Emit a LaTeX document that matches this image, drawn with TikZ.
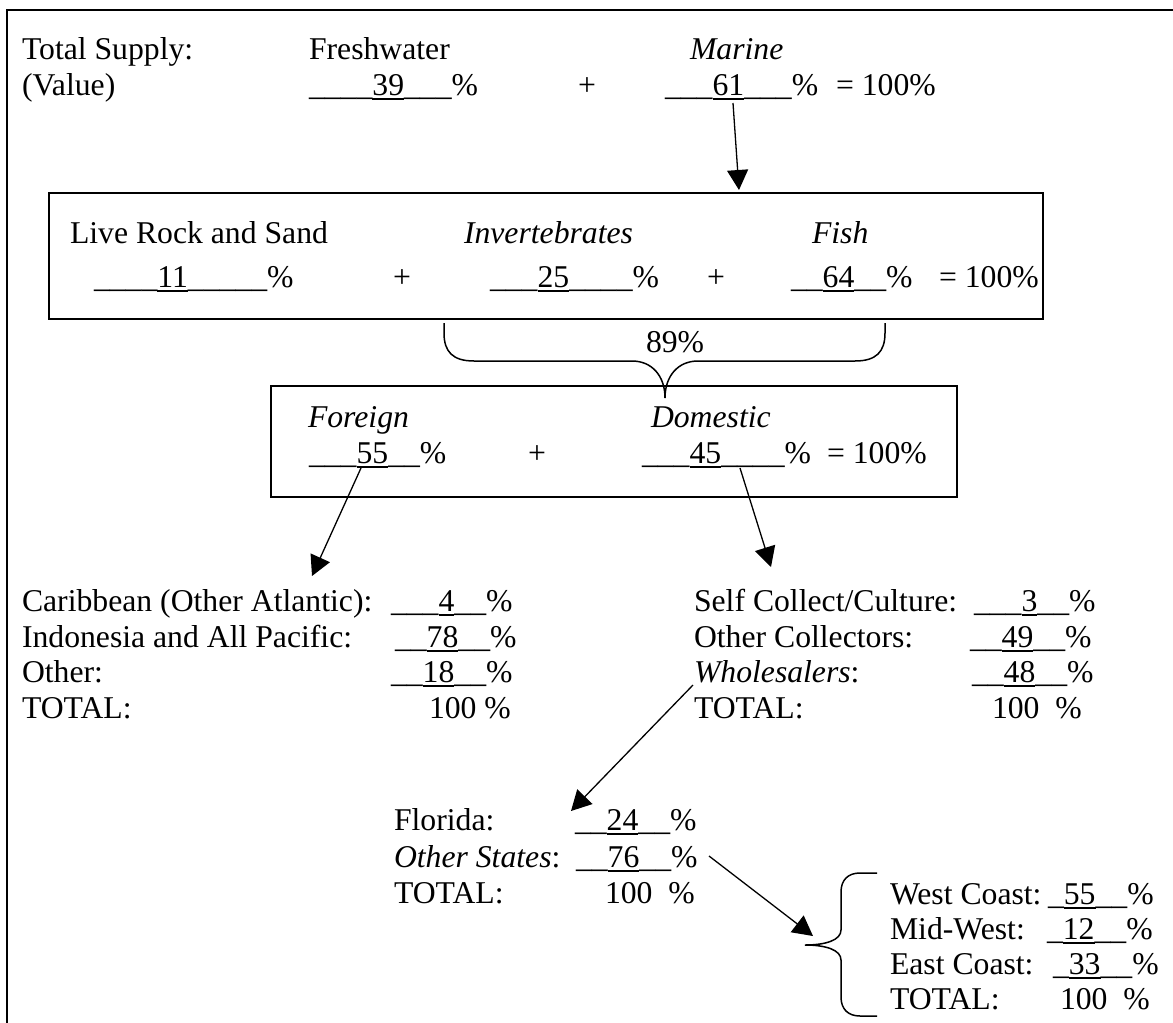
\documentclass[tikz,border=0pt]{standalone}
\usepackage{fontspec}
\setmainfont{Liberation Serif}
\usetikzlibrary{arrows.meta}

% a figure written into a blank: underlined like the blank's underscores
\newcommand\numline[1]{\setbox0\hbox{#1}\rlap{\rule[-0.16em]{\wd0}{0.055em}}\box0}

\tikzset{
  txt/.style={inner sep=0pt, outer sep=0pt, anchor=base west,
              font=\fontsize{31.7}{36}\selectfont},
  boxline/.style={line width=1.8pt},
  arr/.style={line width=1.3pt, -{Triangle[length=20pt,width=21pt]}},
  brace/.style={line width=1.5pt},
}

\begin{document}
\begin{tikzpicture}[x=1pt,y=-1pt]
\useasboundingbox (0,0) rectangle (1173,1023);

% page frame
\draw[line width=2pt] (7,1023) -- (7,10) -- (1173,10);

% ---- total supply
\node[txt] (tot)  at (22,59) {Total Supply:};
\node[txt] (val)  at (22,95) {(Value)};
\node[txt] (fw)   at (309,59) {Freshwater};
\node[txt] (fwv)  at (309,95) {\_\_\_\_\numline{39}\_\_\_\%};
\node[txt] (pl0)  at (578,95) {+};
\node[txt] (mar)  at (690,59) {\textit{Marine}};
\node[txt] (marv) at (665,95) {\_\_\_\numline{61}\_\_\_\%};
\node[txt] (eq0)  at (836,95) {= 100\%};

% ---- marine split
\draw[boxline] (49,193) rectangle (1043,319);
\node[txt] (lrs)  at (70,243)  {Live Rock and Sand};
\node[txt] (inv)  at (464,243) {\textit{Invertebrates}};
\node[txt] (fish) at (812,243) {\textit{Fish}};
\node[txt] (lrsv) at (94,287)  {\_\_\_\_\numline{11}\_\_\_\_\_\%};
\node[txt] (pl1)  at (393,287) {+};
\node[txt] (invv) at (490,287) {\_\_\_\numline{25}\_\_\_\_\%};
\node[txt] (pl2)  at (707,287) {+};
\node[txt] (fishv) at (791,287) {\_\_\numline{64}\_\_\%};
\node[txt] (eq1)  at (939,287) {= 100\%};

% brace under invertebrates and fish
\draw[brace] (444,323) -- (444,333) .. controls (444,352) and (453,361) .. (474,361)
  -- (632,361) .. controls (652,361) and (665,376) .. (665,398)
  .. controls (665,376) and (678,361) .. (698,361)
  -- (855,361) .. controls (876,361) and (885,352) .. (885,333) -- (885,323);
\node[txt] (pct) at (646,352) {89\%};

% ---- origin split
\draw[boxline] (271,386) rectangle (957,497);
\node[txt] (for)  at (308,427) {\textit{Foreign}};
\node[txt] (dom)  at (651,427) {\textit{Domestic}};
\node[txt] (forv) at (309,463) {\_\_\_\numline{55}\_\_\%};
\node[txt] (pl3)  at (528,463) {+};
\node[txt] (domv) at (642,463) {\_\_\_\numline{45}\_\_\_\_\%};
\node[txt] (eq2)  at (827,463) {= 100\%};

% ---- foreign sources
\node[txt] (car)  at (22,611) {Caribbean (Other Atlantic):};
\node[txt] (carv) at (391,611) {\_\_\_\numline{4}\_\_\%};
\node[txt] (ind)  at (22,647) {Indonesia and All Pacific:};
\node[txt] (indv) at (395,647) {\_\_\numline{78}\_\_\%};
\node[txt] (oth)  at (22,682) {Other:};
\node[txt] (othv) at (391,682) {\_\_\numline{18}\_\_\%};
\node[txt] (ftot) at (22,718) {TOTAL:};
\node[txt] (ftotv) at (429,718) {100 \%};

% ---- domestic sources
\node[txt] (sc)   at (694,611) {Self Collect/Culture:};
\node[txt] (scv)  at (974,611) {\_\_\_\numline{3}\_\_\%};
\node[txt] (oc)   at (694,647) {Other Collectors:};
\node[txt] (ocv)  at (970,647) {\_\_\numline{49}\_\_\%};
\node[txt] (whl)  at (694,682) {\textit{Wholesalers}:};
\node[txt] (whlv) at (972,682) {\_\_\numline{48}\_\_\%};
\node[txt] (dtot) at (694,718) {TOTAL:};
\node[txt] (dtotv) at (992,718) {100\ \ \%};

% ---- wholesaler location
\node[txt] (fl)   at (394,830) {Florida:};
\node[txt] (flv)  at (575,830) {\_\_\numline{24}\_\_\%};
\node[txt] (os)   at (394,867) {\textit{Other States}:};
\node[txt] (osv)  at (576,867) {\_\_\numline{76}\_\_\%};
\node[txt] (wtot) at (394,903) {TOTAL:};
\node[txt] (wtotv) at (605,903) {100\ \ \%};

% ---- other states by region
\draw[brace] (877,873) -- (860,873) .. controls (848,873) and (841,880) .. (841,892)
  -- (841,930) .. controls (841,940) and (826,945) .. (805,945)
  .. controls (826,945) and (841,950) .. (841,960)
  -- (841,997) .. controls (841,1009) and (848,1016) .. (860,1016) -- (877,1016);
\node[txt] (wc)   at (890,904) {West Coast:};
\node[txt] (wcv)  at (1048,904) {\_\numline{55}\_\_\%};
\node[txt] (mw)   at (890,939) {Mid-West:};
\node[txt] (mwv)  at (1047,939) {\_\numline{12}\_\_\%};
\node[txt] (ec)   at (890,974) {East Coast:};
\node[txt] (ecv)  at (1053,974) {\_\numline{33}\_\_\%};
\node[txt] (rtot) at (890,1009) {TOTAL:};
\node[txt] (rtotv) at (1060,1009) {100\ \ \%};

% arrow end points
\coordinate (s1) at (733,103);  \coordinate (t1) at (739,190);
\coordinate (s2) at (361,468);  \coordinate (t2) at (312,576);
\coordinate (s3) at (740,468);  \coordinate (t3) at (771,567);
\coordinate (s4) at (693,685);  \coordinate (t4) at (571,811);
\coordinate (s5) at (709,856);  \coordinate (t5) at (813,936);

\draw[arr] (s1) -- (t1);
\draw[arr] (s2) -- (t2);
\draw[arr] (s3) -- (t3);
\draw[arr] (s4) -- (t4);
\draw[arr] (s5) -- (t5);
\end{tikzpicture}
\end{document}
